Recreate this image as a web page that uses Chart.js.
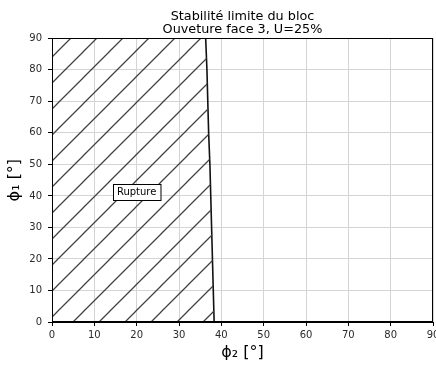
<!DOCTYPE html>
<html>
<head>
<meta charset="utf-8">
<script src="https://cdn.jsdelivr.net/npm/chart.js@4"></script>
<style>
  html, body { margin: 0; padding: 0; background: #fff; overflow: hidden; }
</style>
</head>
<body>
<canvas id="chart" width="436" height="365"></canvas>
<script>
// limit curve: phi1 (y) against phi2 (x)
const PHI1 = [0, 10, 20, 30, 40, 50, 60, 70, 80, 90];
const PHI2_LIMIT = [38.3, 38.1, 37.9, 37.7, 37.5, 37.3, 37.0, 36.8, 36.6, 36.3];
const AXIS_MIN = 0;
const AXIS_MAX = 90;
const AXIS_STEP = 10;
const TITLE_LINES = ["Stabilité limite du bloc", "Ouveture face 3, U=25%"];
const X_TITLE = "ϕ₂ [°]";
const Y_TITLE = "ϕ₁ [°]";
const ZONE_LABEL = "Rupture";
const ZONE_LABEL_AT = { x: 20, y: 41.3 };

const FONT = "'DejaVu Sans', sans-serif";

const limitPoints = PHI1.map((p1, i) => ({ x: PHI2_LIMIT[i], y: p1 }));
// closed region left of the limit curve
const rupturePoints = [{ x: AXIS_MIN, y: AXIS_MIN }, ...limitPoints, { x: AXIS_MIN, y: AXIS_MAX }];

function makeHatch(ctx) {
  const size = 26;
  const c = document.createElement("canvas");
  c.width = size;
  c.height = size;
  const g = c.getContext("2d");
  g.strokeStyle = "#404040";
  g.lineWidth = 1.25;
  g.beginPath();
  g.moveTo(-2, size + 2); g.lineTo(size + 2, -2);
  g.moveTo(-2, 2); g.lineTo(2, -2);
  g.moveTo(size - 2, size + 2); g.lineTo(size + 2, size - 2);
  g.stroke();
  const p = ctx.createPattern(c, "repeat");
  p.setTransform(new DOMMatrix().translate(5, 0));
  return p;
}

const framePlugin = {
  id: "frame",
  afterDatasetsDraw(chart) {
    const { ctx, chartArea: a } = chart;
    ctx.save();
    ctx.strokeStyle = "#000";
    ctx.lineWidth = 1;
    ctx.strokeRect(Math.round(a.left) + 0.5, Math.round(a.top) + 0.5,
      Math.round(a.right - a.left) - 1, Math.round(a.bottom - a.top) - 1);
    ctx.restore();
  }
};

const labelPlugin = {
  id: "zoneLabel",
  afterDatasetsDraw(chart) {
    const { ctx, scales } = chart;
    const cx = scales.x.getPixelForValue(ZONE_LABEL_AT.x);
    const cy = scales.y.getPixelForValue(ZONE_LABEL_AT.y);
    ctx.save();
    ctx.font = "10px " + FONT;
    const w = ctx.measureText(ZONE_LABEL).width + 8;
    const h = 16;
    const x0 = Math.round(cx - w / 2) + 0.5;
    const y0 = Math.round(cy - h / 2) + 0.5;
    ctx.fillStyle = "#fff";
    ctx.fillRect(x0, y0, w, h);
    ctx.strokeStyle = "#000";
    ctx.lineWidth = 1;
    ctx.strokeRect(x0, y0, w, h);
    ctx.fillStyle = "#000";
    ctx.textAlign = "center";
    ctx.textBaseline = "middle";
    ctx.fillText(ZONE_LABEL, cx, cy + 0.5);
    ctx.restore();
  }
};

const canvas = document.getElementById("chart");
const ctx = canvas.getContext("2d");

const axisBase = {
  type: "linear",
  min: AXIS_MIN,
  max: AXIS_MAX,
  border: { display: true, color: "#000", width: 1 },
  grid: { color: "#d4d4d4", tickColor: "#000", tickLength: 4, lineWidth: 1 },
};

new Chart(ctx, {
  type: "scatter",
  data: {
    datasets: [
      {
        data: rupturePoints,
        showLine: true,
        borderWidth: 0,
        borderColor: "rgba(0,0,0,0)",
        backgroundColor: makeHatch(ctx),
        fill: "shape",
        pointRadius: 0,
        tension: 0
      },
      {
        data: limitPoints,
        showLine: true,
        borderColor: "#111",
        borderWidth: 1.6,
        fill: false,
        pointRadius: 0,
        tension: 0
      }
    ]
  },
  options: {
    responsive: false,
    animation: false,
    events: [],
    layout: { padding: { left: 0, right: 3, top: 0, bottom: 0 } },
    plugins: {
      legend: { display: false },
      tooltip: { enabled: false },
      title: {
        display: true,
        fullSize: false,
        text: TITLE_LINES,
        color: "#000",
        font: { family: FONT, size: 12.8, weight: "normal", lineHeight: 0.95 },
        padding: { top: 11, bottom: 3 }
      }
    },
    scales: {
      x: {
        ...axisBase,
        position: "bottom",
        ticks: { stepSize: AXIS_STEP, color: "#2a2a2a", padding: 3, maxRotation: 0,
          font: { family: FONT, size: 10 } },
        title: { display: true, text: X_TITLE, color: "#000", padding: { top: 0, bottom: 3 },
          font: { family: FONT, size: 16 } },
        afterFit(s) { s.height = 43; s.paddingLeft = 0; s.paddingRight = 0; }
      },
      y: {
        ...axisBase,
        position: "left",
        ticks: { stepSize: AXIS_STEP, color: "#2a2a2a", padding: 6,
          font: { family: FONT, size: 10 } },
        title: { display: true, text: Y_TITLE, color: "#000", padding: { top: 5, bottom: 0 },
          font: { family: FONT, size: 16 } },
        afterFit(s) { s.width = 52; s.paddingTop = 0; s.paddingBottom = 0; }
      }
    }
  },
  plugins: [framePlugin, labelPlugin]
});
</script>
</body>
</html>
